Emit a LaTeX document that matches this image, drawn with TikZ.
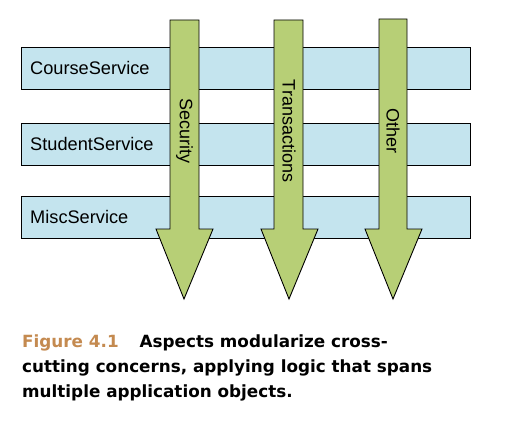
\documentclass[tikz,border=0pt]{standalone}
\usepackage{fontspec}
\setmainfont{Liberation Sans}
\newfontfamily\capfont{DejaVu Sans}
\begin{document}
\begin{tikzpicture}[x=1pt,y=-1pt,
  bar/.style={draw=black, line width=0.9pt, fill=barblue},
  aspect/.style={draw=black, line width=0.9pt, fill=aspectgreen, line join=miter},
  bartext/.style={anchor=west, inner sep=0pt, font=\fontsize{18.2}{20}\selectfont},
  aspecttext/.style={rotate=-90, inner sep=0pt, font=\fontsize{18}{20}\selectfont},
  captext/.style={anchor=base west, inner sep=0pt, font=\capfont\fontsize{16.8}{20}\bfseries\selectfont}]
\definecolor{barblue}{RGB}{196,228,238}
\definecolor{aspectgreen}{RGB}{183,207,118}
\definecolor{figbrown}{RGB}{196,138,80}
\useasboundingbox (0,0) rectangle (505,420);
% service bars
\draw[bar] (21,47) rectangle (470,89);
\draw[bar] (21,123) rectangle (470,165);
\draw[bar] (21,196) rectangle (470,238);
\node[bartext] (course) at (30,68) {CourseService};
\node[bartext] (student) at (30,144) {StudentService};
\node[bartext] (misc) at (30,217) {MiscService};
% aspect arrows
\draw[aspect] (170,20) -- (199,20) -- (199,229) -- (213,229) -- (184,299) -- (156,229) -- (170,229) -- cycle;
\draw[aspect] (274,20) -- (303,20) -- (303,229) -- (318,229) -- (289,299) -- (261,229) -- (274,229) -- cycle;
\draw[aspect] (379,19) -- (407,19) -- (407,229) -- (422,229) -- (393,299) -- (365,229) -- (379,229) -- cycle;
\node[aspecttext] (security) at (184.5,131) {Security};
\node[aspecttext] (transactions) at (289,131) {Transactions};
\node[aspecttext] (other) at (393,131) {Other};
% caption
\node[captext] (cap1) at (22,347) {\textcolor{figbrown}{Figure 4.1}\hspace{21pt}Aspects modularize cross-};
\node[captext] (cap2) at (22,372) {cutting concerns, applying logic that spans};
\node[captext] (cap3) at (22,397) {multiple application objects.};
\end{tikzpicture}
\end{document}
